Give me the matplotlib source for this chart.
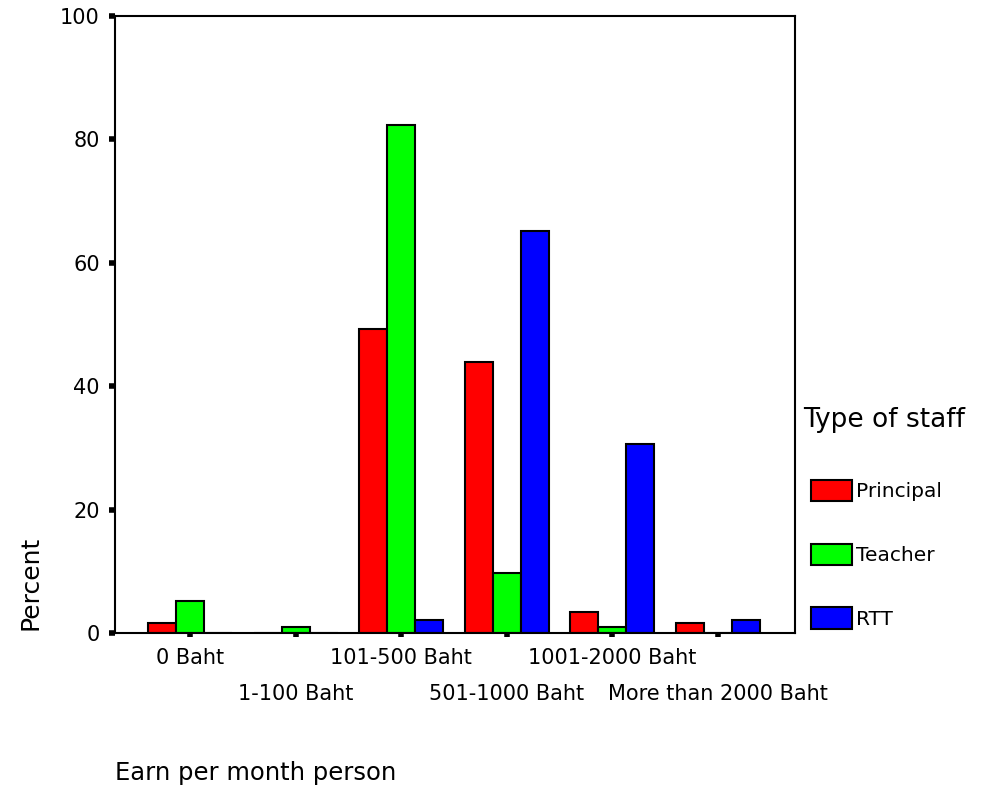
import numpy as np
import matplotlib
matplotlib.use('Agg')
import matplotlib.pyplot as plt

plt.rcParams['font.family'] = ['DejaVu Sans']

# 数据
categories = ['0 Baht', '1-100 Baht', '101-500 Baht', '501-1000 Baht',
              '1001-2000 Baht', 'More than 2000 Baht']
staff_types = ['Principal', 'Teacher', 'RTT']
principal = [1.6, 0.0, 49.3, 43.9, 3.4, 1.6]
teacher = [5.2, 1.0, 82.3, 9.7, 1.0, 0.0]
rtt = [0.0, 0.0, 2.1, 65.2, 30.6, 2.1]
yticks = [0, 20, 40, 60, 80, 100]

series = [principal, teacher, rtt]
colors = ['#ff0000', '#00ff00', '#0000ff']

fig = plt.figure(figsize=(9.81, 7.91), dpi=100, facecolor='white')
ax = fig.add_axes([0.1172, 0.1998, 0.6932, 0.7800])

x = np.arange(len(categories))
w = 0.265
for i, (vals, name, col) in enumerate(zip(series, staff_types, colors)):
    ax.bar(x + (i - 1) * w, vals, width=w, color=col, edgecolor='black',
           linewidth=1.5, label=name, zorder=2)

ax.set_xlim(-0.71, 5.73)
ax.set_ylim(0, 100)
ax.set_yticks(yticks)
ax.set_yticklabels([str(v) for v in yticks], fontsize=15)
ax.set_xticks(x)
ax.set_xticklabels(categories, fontsize=15)

for s in ax.spines.values():
    s.set_linewidth(1.5)
    s.set_color('black')

ax.tick_params(axis='y', direction='out', length=4, width=4, pad=7)
ax.tick_params(axis='x', direction='out', length=3, width=4)

# 错开的x轴标签
for i, t in enumerate(ax.xaxis.get_major_ticks()):
    t.set_pad(8 if i % 2 == 0 else 34)

fig.text(30 / 981, 1 - 583 / 791, 'Percent', rotation=90, fontsize=18,
         ha='center', va='center')
fig.text(115 / 981, 1 - 773 / 791, 'Earn per month person', fontsize=17.5,
         ha='left', va='center')

# 图例
fig.text(803 / 981, 1 - 420 / 791, 'Type of staff', fontsize=19,
         ha='left', va='center')
leg = fig.legend(loc='upper left', bbox_to_anchor=(811 / 981, 1 - 480 / 791),
                 frameon=False, fontsize=14.5, handlelength=2.04,
                 handleheight=1.25, handletextpad=0.2, labelspacing=2.1,
                 borderpad=0, borderaxespad=0)
for h in leg.legend_handles:
    h.set_linewidth(1.5)

fig.savefig('out.png', dpi=100, facecolor='white')
